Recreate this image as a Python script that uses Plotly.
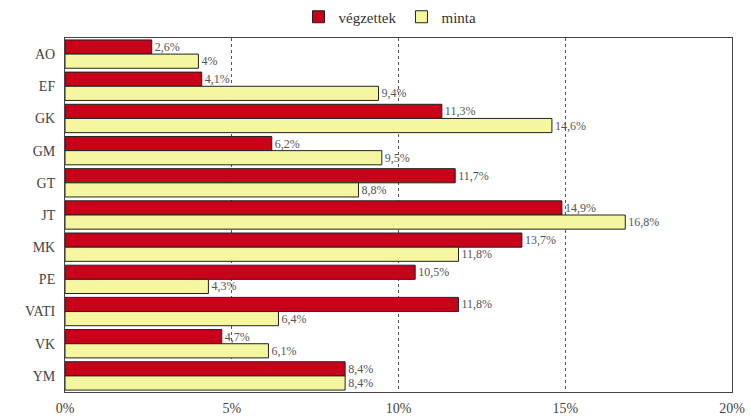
import plotly.graph_objects as go

categories = ["AO", "EF", "GK", "GM", "GT", "JT", "MK", "PE", "VATI", "VK", "YM"]
vegzettek = [2.6, 4.1, 11.3, 6.2, 11.7, 14.9, 13.7, 10.5, 11.8, 4.7, 8.4]
minta = [4, 9.4, 14.6, 9.5, 8.8, 16.8, 11.8, 4.3, 6.4, 6.1, 8.4]
tick_vals = [0, 5, 10, 15, 20]
tick_labels = ["0%", "5%", "10%", "15%", "20%"]

SERIF = "Liberation Serif, Times New Roman, serif"


def fmt(v):
    s = ("%g" % v).replace(".", ",")
    return s + "%"


fig = go.Figure()
fig.add_trace(go.Bar(
    y=categories, x=vegzettek, orientation="h", name="végzettek",
    marker=dict(color="#C8001A", line=dict(color="#222222", width=1)),
    text=[fmt(v) for v in vegzettek], textposition="outside", cliponaxis=False,
    textfont=dict(family=SERIF, size=12, color="#555555"),
))
fig.add_trace(go.Bar(
    y=categories, x=minta, orientation="h", name="minta",
    marker=dict(color="#F4F7A0", line=dict(color="#222222", width=1)),
    text=[fmt(v) for v in minta], textposition="outside", cliponaxis=False,
    textfont=dict(family=SERIF, size=12, color="#555555"),
))

fig.update_layout(
    width=750, height=419,
    margin=dict(l=65, r=18, t=38, b=27),
    paper_bgcolor="white", plot_bgcolor="white",
    barmode="group", bargap=0.12, bargroupgap=0,
    font=dict(family=SERIF, size=13, color="#333333"),
    showlegend=True,
    legend=dict(orientation="h", x=0.52, xanchor="center", xref="container",
                y=1 - 17 / 419, yanchor="middle", yref="container",
                font=dict(family=SERIF, size=15, color="#333333"),
                itemwidth=30, bgcolor="rgba(0,0,0,0)"),
)
fig.update_xaxes(
    range=[0, 20], tickvals=tick_vals, ticktext=tick_labels,
    showgrid=True, gridcolor="#555555", griddash="dot", gridwidth=1,
    showline=True, linecolor="#444444", linewidth=1, mirror=True,
    ticks="outside", ticklen=3, tickcolor="rgba(0,0,0,0)",
    zeroline=False, tickfont=dict(family=SERIF, size=14, color="#444444"),
    automargin=False,
)
fig.update_yaxes(
    autorange="reversed", showline=True, linecolor="#444444", linewidth=1, mirror=True,
    ticks="outside", ticklen=6, tickcolor="rgba(0,0,0,0)",
    tickfont=dict(family=SERIF, size=14, color="#444444"),
    automargin=False,
)

fig.write_html("out.html", config={"displayModeBar": False},
               post_script="document.body.style.margin='0px';")
